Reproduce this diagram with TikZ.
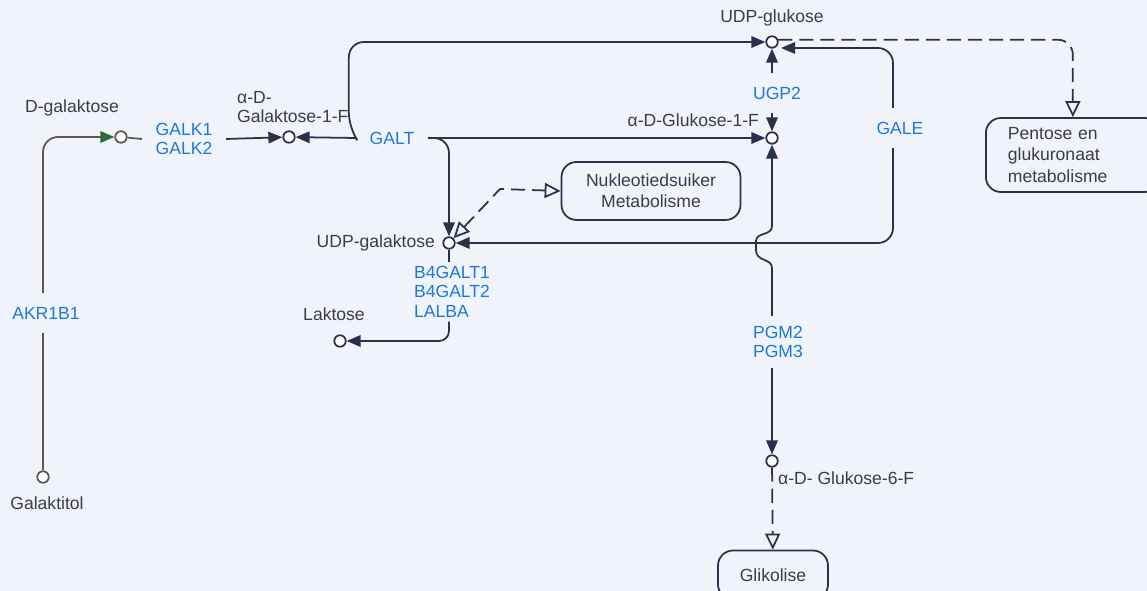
\documentclass[tikz,border=0pt]{standalone}
\usepackage{fontspec}
\setmainfont{Liberation Sans}
\usetikzlibrary{arrows.meta}
\definecolor{lijn}{RGB}{40,50,75}
\definecolor{ensiem}{RGB}{30,120,220}
\definecolor{teks}{RGB}{60,60,68}
\definecolor{agter}{RGB}{240,244,250}
\definecolor{groen}{RGB}{45,105,60}
\definecolor{grys}{RGB}{95,85,85}
\tikzset{
  cpd/.style={circle,draw=lijn,fill=white,line width=1pt,inner sep=0pt,minimum size=2.3mm},
  enz/.style={text=ensiem,font=\fontsize{10}{11}\selectfont,align=left,inner xsep=0.27cm,inner ysep=0.27cm},
  lbl/.style={text=teks,font=\fontsize{10}{11}\selectfont,inner sep=1pt},
  pad/.style={draw=lijn,line width=1pt,rounded corners=3mm,fill=agter,text=teks,font=\fontsize{10}{12}\selectfont},
  rx/.style={draw=lijn,line width=1pt,-{Triangle[length=2.8mm,width=2.3mm]}},
  ln/.style={draw=lijn,line width=1pt},
  opn/.tip={Triangle[open,length=3.2mm,width=3mm]},
  lnk/.style={draw=lijn,line width=1pt,dash pattern=on 8pt off 4pt,-opn}
}
\begin{document}
\begin{tikzpicture}[x=0.02cm,y=-0.02cm]
  \fill[agter] (0,0) rectangle (1147,591);
  \clip (0,0) rectangle (1147,591);

  \node[cpd,draw=grys] (dgal) at (121,137) {};
  \node[cpd] (gal1p) at (289,137) {};
  \node[cpd] (udpglc) at (772,42) {};
  \node[cpd] (glc1p) at (772,138) {};
  \node[cpd] (udpgal) at (449,243) {};
  \node[cpd] (laktose) at (340,341) {};
  \node[cpd,draw=grys] (galtol) at (43,477) {};
  \node[cpd] (glc6p) at (772,461) {};

  \node[lbl] (dgal-l) at (72,108) {D-galaktose};
  \node[lbl,align=left,anchor=west] (gal1p-l) at (235,107) {α-D-\\Galaktose-1-F};
  \node[lbl] (udpglc-l) at (772,18) {UDP-glukose};
  \node[lbl,anchor=east] (glc1p-l) at (761,120) {α-D-Glukose-1-F};
  \node[lbl,anchor=east] (udpgal-l) at (437,243) {UDP-galaktose};
  \node[lbl] (laktose-l) at (334,314) {Laktose};
  \node[lbl] (galtol-l) at (47,503) {Galaktitol};
  \node[lbl,anchor=west] (glc6p-l) at (776,478) {α-D- Glukose-6-F};

  \node[enz] (galk) at (184,139) {GALK1\\GALK2};
  \node[enz] (galt) at (392,138) {GALT};
  \node[enz] (ugp) at (777,93) {UGP2};
  \node[enz] (gale) at (900,128) {GALE};
  \node[enz,inner ysep=0.08cm,anchor=north west,inner xsep=1pt] (b4) at (412,262) {B4GALT1\\B4GALT2\\LALBA};
  \node[enz,inner ysep=0.2cm] (pgm) at (778,342) {PGM2\\PGM3};
  \node[enz] (akr) at (46,313) {AKR1B1};

  \node[pad,minimum width=3.58cm,minimum height=1.16cm,align=center] (nukl) at (651,191) {Nukleotiedsuiker\\Metabolisme};
  \node[pad,anchor=west,minimum height=1.48cm,text width=2.6cm,inner xsep=0.44cm,align=left] (pentose) at (985,155) {Pentose en\\glukuronaat\\metabolisme};
  \node[pad,minimum width=2.2cm,minimum height=0.98cm] (glikolise) at (773,575) {Glikolise};

  \draw[grys,line width=1pt] (galtol) -- (akr.south -| galtol);
  \draw[grys,line width=1pt,rounded corners=3mm,-{Triangle[length=2.8mm,width=2.3mm,color=groen]}] (akr.north -| galtol) |- (dgal);
  \draw[grys,line width=1pt] (dgal) -- (galk.west);
  \draw[rx] (galk.east) -- (gal1p);

  \draw[rx] (galt.west) -- (gal1p);
  \draw[rx,rounded corners=3mm] (galt.west) -- ++(-7,-10) |- (udpglc);
  \draw[rx] (galt.east) -- (glc1p);
  \draw[rx,rounded corners=3mm] (galt.east) -| (udpgal);

  \draw[rx] (ugp.north -| udpglc) -- (udpglc);
  \draw[rx] (ugp.south -| glc1p) -- (glc1p);

  \coordinate (udpglc-in) at (781,48);
  \draw[rx,rounded corners=3mm] (gale.north -| 893,0) |- (udpglc-in);
  \draw[rx,rounded corners=3mm] (gale.south -| 893,0) |- (udpgal);

  \draw[rx] (pgm.north -| glc1p) -- (772,268) .. controls (772,258) and (756,262) .. (756,250) -- (756,241) .. controls (756,232) and (772,236) .. (772,226) -- (glc1p);
  \draw[rx] (pgm.south -| glc6p) -- (glc6p);

  \draw[ln] (udpgal) -- (b4.north -| udpgal);
  \draw[rx,rounded corners=2mm] (b4.south -| udpgal) |- (laktose);

  \draw[lnk,opn-opn] (udpgal) -- (500,189) -- (nukl.west);
  \draw[lnk,rounded corners=3mm] (udpglc.20) -| (pentose.north);
  \draw[lnk] (glc6p) -- (glikolise);
\end{tikzpicture}
\end{document}
